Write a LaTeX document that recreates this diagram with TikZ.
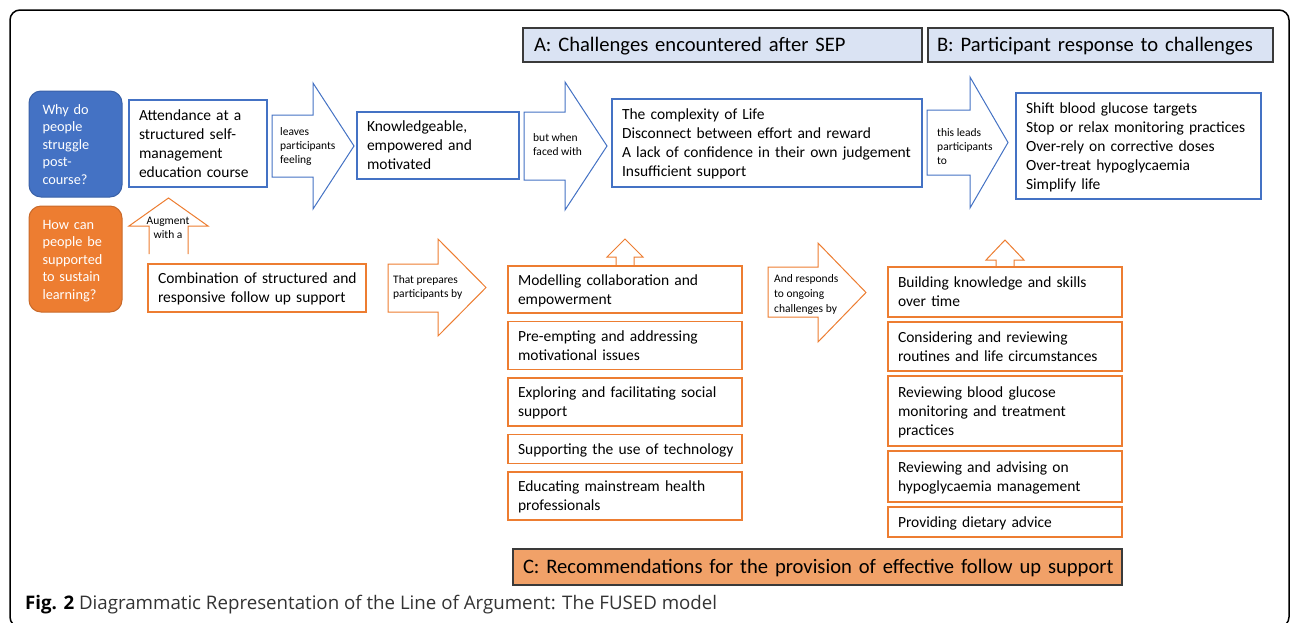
\documentclass[tikz,border=0pt]{standalone}
\usepackage{fontspec}
\setmainfont{Carlito}
\newfontfamily\capfont{Open Sans}
\usetikzlibrary{positioning}
\definecolor{fusedblue}{HTML}{4472C4}
\definecolor{fusedorange}{HTML}{ED7D31}
\definecolor{headblue}{HTML}{DAE3F3}
\definecolor{headorange}{HTML}{F1A168}
\definecolor{headline}{HTML}{3A3A3A}
% lines kept as typed, never broken again
\newcommand{\lines}[1]{\raisebox{-1.5pt}[\height][\depth]{\begin{tabular}{@{}l@{}}#1\end{tabular}}}
% block arrow pointing right: style, x left, body top, body bottom, head x, head top, head bottom, tip x
\newcommand{\blockright}[8]{%
    \draw[#1] (#2,#3) -- (#5,#3) -- (#5,#6) -- (#8,{(#6+#7)/2}) -- (#5,#7) -- (#5,#4) -- (#2,#4) -- cycle;}
% block arrow pointing up: style, body left, body right, body bottom, head y, head left, head right, apex y
\newcommand{\blockup}[8]{%
    \draw[#1] (#2,#4) -- (#2,#5) -- (#6,#5) -- ({(#6+#7)/2},#8) -- (#7,#5) -- (#3,#5) -- (#3,#4);}

\begin{document}
\begin{tikzpicture}[
    x=1pt, y=-1pt,
    box/.style={rectangle, fill=white, line width=1.3pt, anchor=north west, align=left,
        inner xsep=10pt, inner ysep=0pt, outer sep=0pt, font=\fontsize{15.5}{19}\selectfont},
    bluebox/.style={box, draw=fusedblue},
    orangebox/.style={box, draw=fusedorange},
    question/.style={rectangle, rounded corners=12pt, anchor=north west, align=left, text=white,
        line width=1pt, inner xsep=13.5pt, inner ysep=0pt, outer sep=0pt,
        minimum width=93, minimum height=106, text width=66,
        font=\fontsize{14.3}{17.5}\selectfont},
    heading/.style={rectangle, draw=headline, line width=1.3pt, anchor=north west, align=left,
        inner ysep=0pt, outer sep=0pt, font=\fontsize{20.6}{24}\selectfont},
    bluearrow/.style={draw=fusedblue, fill=white, line width=1pt, line join=miter},
    orangearrow/.style={draw=fusedorange, fill=white, line width=1pt, line join=miter},
    arrtext/.style={anchor=west, align=left, inner sep=0pt, font=\fontsize{11.5}{14}\selectfont}
    ]
    \useasboundingbox (0,0) rectangle (1290,622);
    \draw[line width=1.5pt, rounded corners=10pt] (10,10) rectangle (1289,627);

    %Headings
    \node[heading, fill=headblue, minimum width=399, minimum height=34, text width=377, inner xsep=11pt]
        (hA) at (523,28) {\lines{A: Challenges encountered after SEP}};
    \node[heading, fill=headblue, minimum width=345, minimum height=34, text width=327, inner xsep=9pt]
        (hB) at (928,28) {\lines{B: Participant response to challenges}};
    \node[heading, fill=headorange, minimum width=609, minimum height=36, text width=589, inner xsep=10pt]
        (hC) at (513,549) {\lines{C: Recommendations for the provision of effective follow up support}};

    %Arrows
    \blockright{bluearrow}{272}{115}{177}{313}{83}{209}{354}
    \blockright{bluearrow}{524}{112}{180}{565}{82}{210}{607}
    \blockright{bluearrow}{927}{110}{175}{970}{77}{208}{1008}
    \blockup{orangearrow}{149}{188}{254}{226}{129}{208}{198}
    \blockright{orangearrow}{388}{264}{312}{438}{239}{336}{486}
    \blockup{orangearrow}{616}{634}{266}{257}{607}{643}{239}
    \blockright{orangearrow}{768}{267}{317}{818}{243}{342}{866}
    \blockup{orangearrow}{996}{1014}{268}{260}{986}{1024}{240}

    %Questions
    \node[question, fill=fusedblue, draw=fusedblue!85!black]
        (why) at (29,91) {\lines{Why do\\people\\struggle\\post-\\course?}};
    \node[question, fill=fusedorange, draw=fusedorange!85!black]
        (how) at (29,206) {\lines{How can\\people be\\supported\\to sustain\\learning?}};

    %Top row
    \node[bluebox, minimum width=138, minimum height=87, text width=118]
        (course) at (129,100) {\lines{Attendance at a\\structured self-\\management\\education course}};
    \node[bluebox, minimum width=162, minimum height=67, text width=142]
        (feeling) at (357,112) {\lines{Knowledgeable,\\empowered and\\motivated}};
    \node[bluebox, minimum width=310, minimum height=88, text width=290]
        (challenge) at (612,99) {\lines{The complexity of Life\\Disconnect between effort and reward\\A lack of confidence in their own judgement\\Insufficient support}};
    \node[bluebox, minimum width=245, minimum height=106, text width=225]
        (response) at (1016,93) {\lines{Shift blood glucose targets\\Stop or relax monitoring practices\\Over-rely on corrective doses\\Over-treat hypoglycaemia\\Simplify life}};

    %Follow up support
    \node[orangebox, minimum width=218, minimum height=48, text width=198]
        (combo) at (148,264) {\lines{Combination of structured and\\responsive follow up support}};

    \node[orangebox, minimum width=234, minimum height=47, text width=214]
        (model) at (508,266) {\lines{Modelling collaboration and\\empowerment}};
    \node[orangebox, minimum width=234, minimum height=48, text width=214, below=8.5pt of model]
        (motive) {\lines{Pre-empting and addressing\\motivational issues}};
    \node[orangebox, minimum width=234, minimum height=48, text width=214, below=8.5pt of motive]
        (social) {\lines{Exploring and facilitating social\\support}};
    \node[orangebox, minimum width=234, minimum height=29, text width=214, below=8.5pt of social]
        (tech) {\lines{Supporting the use of technology}};
    \node[orangebox, minimum width=234, minimum height=48, text width=214, below=8.5pt of tech]
        (educate) {\lines{Educating mainstream health\\professionals}};

    \node[orangebox, minimum width=234, minimum height=50, text width=214]
        (skills) at (888,267) {\lines{Building knowledge and skills\\over time}};
    \node[orangebox, minimum width=234, minimum height=49, text width=214, below=5pt of skills]
        (routine) {\lines{Considering and reviewing\\routines and life circumstances}};
    \node[orangebox, minimum width=234, minimum height=70, text width=214, below=5pt of routine]
        (monitor) {\lines{Reviewing blood glucose\\monitoring and treatment\\practices}};
    \node[orangebox, minimum width=234, minimum height=51, text width=214, below=5pt of monitor]
        (hypo) {\lines{Reviewing and advising on\\hypoglycaemia management}};
    \node[orangebox, minimum width=234, minimum height=30, text width=214, below=5pt of hypo]
        (diet) {\lines{Providing dietary advice}};

    %Arrow labels
    \node[arrtext] (leaves) at (280,146) {leaves\\participants\\feeling};
    \node[arrtext, font=\fontsize{11.5}{13.5}\selectfont] (faced) at (533,144.5) {but when\\faced with};
    \node[arrtext] (leads) at (937,147) {this leads\\participants\\to};
    \node[arrtext, anchor=center, align=center] (augment) at (168,228) {Augment\\with a};
    \node[arrtext] (prepares) at (393,287) {That prepares\\participants by};
    \node[arrtext, font=\fontsize{11.5}{15}\selectfont] (responds) at (774,294) {And responds\\to ongoing\\challenges by};

    %Caption
    \node[anchor=base west, inner sep=0pt, text=black!80, font=\capfont\fontsize{18.7}{22}\selectfont]
        (caption) at (25,609) {\textcolor{black}{\textbf{Fig. 2}} Diagrammatic Representation of the Line of Argument: The FUSED model};
\end{tikzpicture}
\end{document}
